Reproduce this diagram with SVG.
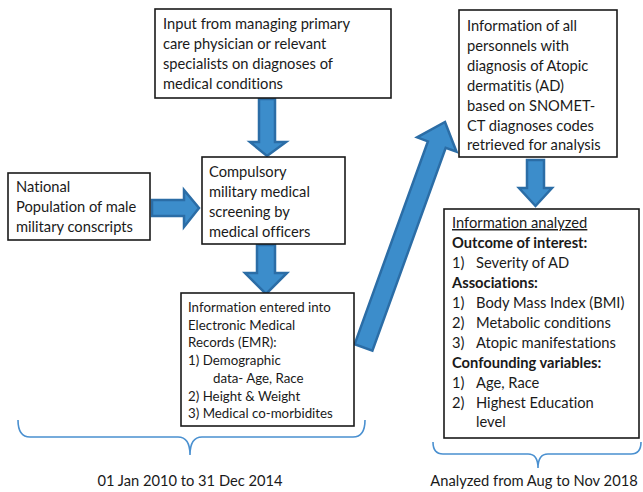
<svg xmlns="http://www.w3.org/2000/svg" width="643" height="492" viewBox="0 0 643 492">
<style>
text{font-variant-ligatures:none}
.box{fill:#fff;stroke:#1a1a1a;stroke-width:1.6}
.t{font-family:Lato,"Liberation Sans",sans-serif;font-size:14.7px;fill:#1a1a1a}
.s{font-family:Lato,"Liberation Sans",sans-serif;font-size:13.3px;fill:#1a1a1a}
.b{font-weight:bold}
.arr{fill:#3C8DCB;stroke:#2B6DA6;stroke-width:2.5;stroke-linejoin:miter}
.brace{fill:none;stroke:#4A90D0;stroke-width:1.6}
.lbl{font-family:Lato,"Liberation Sans",sans-serif;font-size:14.7px;fill:#1a1a1a;text-anchor:middle}
</style>
<rect width="643" height="492" fill="#fff"/>
<g id="connectors">
<polygon class="arr" points="259,99 275,99 275,142 286,142 267,156 250,142 259,142"/>
<polygon class="arr" points="152,200 184,200 184,190 199,208 184,227 184,216 152,216"/>
<polygon class="arr" points="257,245 275,245 275,273 287,273 266,294 245,273 257,273"/>
<polygon class="arr" points="527,160 544,160 544,188 552,188 535.5,206 519,188 527,188"/>
<polygon class="arr" points="354.6,344.3 427.9,141.4 417.1,137.4 445,122 456.5,151.7 445.7,147.8 372.4,350.7"/>
</g>
<g id="input">
<rect class="box" x="155" y="9" width="236" height="89"/>
<text class="t" x="163" y="29">Input from managing primary</text>
<text class="t" x="163" y="49">care physician or relevant</text>
<text class="t" x="163" y="69">specialists on diagnoses of</text>
<text class="t" x="163" y="89">medical conditions</text>
</g>
<g id="national">
<rect class="box" x="8" y="173" width="142" height="67"/>
<text class="t" x="16" y="192">National</text>
<text class="t" x="16" y="212">Population of male</text>
<text class="t" x="16" y="232">military conscripts</text>
</g>
<g id="screening">
<rect class="box" x="202" y="157" width="143" height="87"/>
<text class="t" x="209" y="177">Compulsory</text>
<text class="t" x="209" y="197">military medical</text>
<text class="t" x="209" y="217">screening by</text>
<text class="t" x="209" y="237">medical officers</text>
</g>
<g id="emr">
<rect class="box" x="181" y="293" width="173" height="133"/>
<text class="s" x="188" y="312">Information entered into</text>
<text class="s" x="188" y="329.7">Electronic Medical</text>
<text class="s" x="188" y="347.4">Records (EMR):</text>
<text class="s" x="188" y="365.1">1) Demographic</text>
<text class="s" x="213" y="382.8">data- Age, Race</text>
<text class="s" x="188" y="400.5">2) Height &amp; Weight</text>
<text class="s" x="188" y="418.2">3) Medical co-morbidites</text>
</g>
<g id="ad-info">
<rect class="box" x="459" y="10" width="158" height="147"/>
<text class="t" x="467" y="31">Information of all</text>
<text class="t" x="467" y="51">personnels with</text>
<text class="t" x="467" y="71">diagnosis of Atopic</text>
<text class="t" x="467" y="91">dermatitis (AD)</text>
<text class="t" x="467" y="111">based on SNOMET-</text>
<text class="t" x="467" y="131">CT diagnoses codes</text>
<text class="t" x="467" y="150">retrieved for analysis</text>
</g>
<g id="analyzed">
<rect class="box" x="444" y="209" width="195" height="229"/>
<text class="t" x="452" y="228" text-decoration="underline">Information analyzed</text>
<text class="t b" x="452" y="248">Outcome of interest:</text>
<text class="t" x="452" y="268">1)</text><text class="t" x="476" y="268">Severity of AD</text>
<text class="t b" x="452" y="288">Associations:</text>
<text class="t" x="452" y="308">1)</text><text class="t" x="476" y="308">Body Mass Index (BMI)</text>
<text class="t" x="452" y="327.5">2)</text><text class="t" x="476" y="327.5">Metabolic conditions</text>
<text class="t" x="452" y="347.5">3)</text><text class="t" x="476" y="347.5">Atopic manifestations</text>
<text class="t b" x="452" y="367.5">Confounding variables:</text>
<text class="t" x="452" y="387.5">1)</text><text class="t" x="476" y="387.5">Age, Race</text>
<text class="t" x="452" y="407.5">2)</text><text class="t" x="476" y="407.5">Highest Education</text>
<text class="t" x="476" y="427">level</text>
</g>
<g id="period-1">
<path class="brace" d="M18,420 Q18,437 30,437 L178,437 Q190,437 190,455 Q190,437 202,437 L353,437 Q365,437 365,420"/>
<text class="lbl" x="190" y="486">01 Jan 2010 to 31 Dec 2014</text>
</g>
<g id="period-2">
<path class="brace" d="M433,442 Q433,454 443,454 L528,454 Q538,454 538,468 Q538,454 548,454 L631,454 Q641,454 641,442"/>
<text class="lbl" x="534" y="486">Analyzed from Aug to Nov 2018</text>
</g>
</svg>
